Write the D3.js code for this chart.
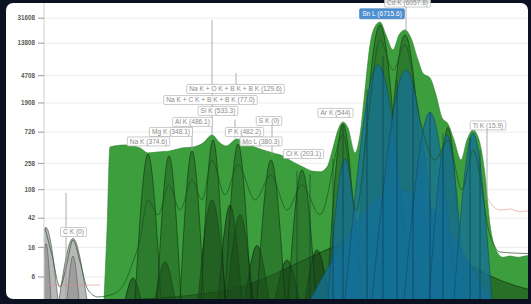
<!DOCTYPE html>
<html>
<head>
<meta charset="utf-8">
<script src="https://cdn.jsdelivr.net/npm/d3@7"></script>
<style>
  html, body { margin: 0; padding: 0; background: #0b1120; }
  svg { display: block; }
  .tick-label { font-family: "Liberation Sans", Arial, sans-serif; font-size: 6.3px; fill: #5a5a5a; font-weight: bold; }
  .peak-label { font-family: "Liberation Sans", Arial, sans-serif; font-size: 6.6px; fill: #8a8a8a; }
</style>
</head>
<body>
<svg id="chart" width="531" height="304"></svg>
<script>
// Y axis ticks (counts, log scale)
const tickValues = [6, 16, 42, 108, 258, 726, 1908, 4708, 13808, 31608];

// outer fit envelope [keV, counts]
const envelope = [
  [0.60, 2.8], [0.63, 28], [0.66, 444], [0.81, 474], [0.96, 430], [1.04, 365],
  [1.14, 377], [1.26, 390], [1.38, 430], [1.49, 444], [1.59, 507], [1.68, 660],
  [1.76, 507], [1.82, 459], [1.93, 579], [2.01, 507], [2.08, 459], [2.19, 402],
  [2.29, 365], [2.39, 330], [2.49, 270], [2.59, 229], [2.68, 200], [2.76, 195],
  [2.83, 229], [2.89, 430], [2.94, 780], [2.99, 1017], [3.04, 830], [3.11, 365],
  [3.16, 660], [3.21, 2935], [3.26, 13000], [3.31, 24000], [3.36, 27900],
  [3.42, 18100], [3.49, 11030], [3.55, 18100], [3.61, 21400], [3.67, 16300],
  [3.74, 7920], [3.79, 5100], [3.86, 4370], [3.92, 2490], [3.98, 1170],
  [4.04, 950], [4.10, 560], [4.17, 289], [4.23, 560], [4.29, 780], [4.35, 560],
  [4.41, 176], [4.46, 33.6], [4.52, 14.7], [4.59, 11.5], [4.66, 12], [4.74, 11.5],
  [4.81, 12], [4.87, 12.4]
];

// wide dark hump under everything [keV, counts]
const wideHump = [
  [0.76, 2.8], [1.16, 3.0], [1.56, 3.4], [1.96, 4.3], [2.26, 6.2], [2.56, 9.9],
  [2.86, 15.5], [3.21, 23], [3.56, 28.4], [3.96, 17.3], [4.26, 8.9], [4.56, 5.4],
  [4.87, 3.9]
];

// peaks: [centre keV, top counts, half width keV]
const greenPeaks = [
  [1.04, 350, 0.13], [1.25, 330, 0.12], [1.48, 390, 0.12], [1.69, 560, 0.12],
  [1.94, 490, 0.13], [2.27, 289, 0.14], [2.58, 207, 0.14], [2.99, 950, 0.16],
  [3.36, 25240, 0.25], [3.61, 18100, 0.25], [4.04, 850, 0.14]
];
const greenSmall = [
  [0.89, 5.8, 0.08], [1.21, 9.9, 0.10], [1.68, 77, 0.14], [1.86, 65, 0.12],
  [1.96, 47, 0.13], [2.13, 17, 0.12], [2.43, 10.5, 0.12], [2.73, 14.7, 0.12]
];
const bluePeaks = [
  [3.56, 107, 0.90], [3.01, 300, 0.17], [3.34, 6700, 0.33], [3.62, 5700, 0.34],
  [3.86, 1400, 0.26], [4.03, 660, 0.18], [4.29, 700, 0.19]
];
const grayPeaks = [[0.02, 31, 0.12], [0.29, 21.5, 0.14]];
const grayInner = [[0.02, 18, 0.05], [0.29, 12, 0.06]];

// measured spectrum line [keV, counts]
const spectrum = [
  [0.01, 30.3], [0.08, 12.4], [0.16, 4.3], [0.22, 8.1], [0.29, 20.4], [0.36, 9.9],
  [0.44, 3.9], [0.54, 3.1], [0.71, 3.5], [0.81, 5.1], [0.89, 9.9], [0.96, 20.4],
  [1.04, 77], [1.14, 47], [1.25, 126], [1.36, 55], [1.48, 149], [1.58, 77],
  [1.68, 289], [1.81, 91], [1.94, 245], [2.11, 77], [2.27, 176], [2.43, 55],
  [2.58, 126], [2.76, 47], [2.99, 660], [3.12, 53], [3.24, 1085], [3.36, 15340],
  [3.49, 5700], [3.61, 13000], [3.76, 1085], [3.91, 289], [4.04, 560], [4.18, 107],
  [4.29, 402], [4.46, 24], [4.56, 13.7], [4.87, 13]
];

// background (pink) traces
const bgLeft = [[0.0, 4.6], [0.56, 4.6]];
const bgRight = [[4.43, 85], [4.48, 65], [4.56, 55], [4.66, 57], [4.76, 52], [4.87, 55]];

// grey connector lines [keV, top counts, bottom counts]
const markerLines = [
  [0.22, 97, 2.8], [1.68, 29800, 640], [1.92, 5140, 3460], [1.48, 900, 390],
  [1.91, 1100, 600], [2.28, 950, 330], [4.43, 780, 77], [3.62, 45900, 21400]
];

// dark lines down the peaks [keV, top counts]
const peakLines = [
  [2.53, 200], [2.66, 180], [2.89, 300], [2.99, 900], [3.23, 3000], [3.39, 9000],
  [3.53, 4000], [3.69, 4000], [3.86, 1400], [3.99, 700], [4.26, 600], [4.36, 400]
];

// element labels [text, keV, counts, highlighted]
const labels = [
  ["Na K + O K + B K + B K (129.6)", 1.915, 3030, false],
  ["Na K + C K + B K + B K (77.0)", 1.665, 2100, false],
  ["Si K (533.3)", 1.74, 1464, false],
  ["Al K (486.1)", 1.485, 1017, false],
  ["S K (0)", 2.25, 1050, false],
  ["Mg K (348.1)", 1.27, 730, false],
  ["P K (482.2)", 2.005, 730, false],
  ["Na K (374.6)", 1.045, 533, false],
  ["Mo L (380.3)", 2.17, 533, false],
  ["Cl K (203.1)", 2.595, 352, false],
  ["Ar K (544)", 2.915, 1370, false],
  ["Cd K (6057.8)", 3.635, 53000, false],
  ["Sn L (6715.6)", 3.38, 36500, true],
  ["C K (0)", 0.295, 26.6, false],
  ["Ti K (15.9)", 4.44, 906, false]
];

const W = 531, H = 304;
const plot = { left: 44, right: 528, top: 3, bottom: 299 };

const svg = d3.select('#chart');

// frame
svg.append('rect').attr('width', W).attr('height', H).attr('fill', '#0b1120');
svg.append('rect')
  .attr('x', 6).attr('y', 3).attr('width', 522).attr('height', 296)
  .attr('rx', 7).attr('fill', '#ffffff');

const x = d3.scaleLinear().domain([0, 4.87]).range([44, 531]);
const y = d3.scaleLog().domain([2.8, 52200]).range([300, 3]);

// grid
svg.append('g').selectAll('line')
  .data(tickValues)
  .enter().append('line')
  .attr('x1', plot.left).attr('x2', plot.right)
  .attr('y1', d => y(d)).attr('y2', d => y(d))
  .attr('stroke', '#ececec').attr('stroke-width', 1);

svg.append('defs').append('clipPath').attr('id', 'plotClip')
  .append('rect')
  .attr('x', plot.left).attr('y', plot.top)
  .attr('width', plot.right - plot.left).attr('height', plot.bottom - plot.top);

const g = svg.append('g').attr('clip-path', 'url(#plotClip)');

const area = d3.area()
  .x(d => x(d[0]))
  .y0(300)
  .y1(d => y(d[1]))
  .curve(d3.curveMonotoneX);

const peakArea = d3.area()
  .x(d => x(d[0]))
  .y0(300)
  .y1(d => y(d[1]))
  .curve(d3.curveNatural);

const peakPoints = p => [[p[0] - p[2], 2.8], [p[0], p[1]], [p[0] + p[2], 2.8]];

const line = d3.line()
  .x(d => x(d[0]))
  .y(d => y(d[1]))
  .curve(d3.curveMonotoneX);

// envelope
g.append('path')
  .datum(envelope)
  .attr('d', area)
  .attr('fill', '#3c9e3c')
  .attr('stroke', '#2e7d2e')
  .attr('stroke-width', 0.6);

// wide hump
g.append('path')
  .datum(wideHump)
  .attr('d', area)
  .attr('fill', '#143f14')
  .attr('fill-opacity', 0.5)
  .attr('stroke', '#0f2f0f')
  .attr('stroke-width', 0.7);

function drawPeaks(data, fill, opacity, stroke) {
  g.append('g').selectAll('path')
    .data(data)
    .enter().append('path')
    .attr('d', d => peakArea(peakPoints(d)))
    .attr('fill', fill)
    .attr('fill-opacity', opacity)
    .attr('stroke', stroke)
    .attr('stroke-width', 0.6);
}

drawPeaks(greenSmall, '#0f330f', 0.5, '#0a220a');
drawPeaks(greenPeaks, '#1d5a1d', 0.5, '#0f300f');
drawPeaks(bluePeaks, '#146f96', 0.78, '#0d4a6a');
drawPeaks(grayPeaks, '#b8b8b8', 1, '#444');
drawPeaks(grayInner, '#8c8c8c', 0.6, '#555');

// dark lines down peaks
g.append('g').selectAll('line')
  .data(peakLines)
  .enter().append('line')
  .attr('x1', d => x(d[0])).attr('x2', d => x(d[0]))
  .attr('y1', d => y(d[1])).attr('y2', 300)
  .attr('stroke', '#06263a').attr('stroke-opacity', 0.55).attr('stroke-width', 0.9);

// spectrum
g.append('path')
  .datum(spectrum)
  .attr('d', line)
  .attr('fill', 'none')
  .attr('stroke', '#1c501c')
  .attr('stroke-opacity', 0.85)
  .attr('stroke-width', 0.8);

// background
[bgLeft, bgRight].forEach(bg => {
  g.append('path')
    .datum(bg)
    .attr('d', line)
    .attr('fill', 'none')
    .attr('stroke', '#e08a8a')
    .attr('stroke-opacity', 0.8)
    .attr('stroke-width', 0.7);
});

// y axis
svg.append('line')
  .attr('x1', plot.left).attr('x2', plot.left)
  .attr('y1', plot.top).attr('y2', plot.bottom)
  .attr('stroke', '#cfcfcf');

const yTicks = svg.append('g').selectAll('g')
  .data(tickValues)
  .enter().append('g')
  .attr('transform', d => 'translate(0,' + y(d) + ')');

yTicks.append('line')
  .attr('x1', 38).attr('x2', plot.left)
  .attr('stroke', '#999');

yTicks.append('text')
  .attr('class', 'tick-label')
  .attr('x', 35).attr('dy', '0.35em')
  .attr('text-anchor', 'end')
  .text(d => d);

// connector lines
svg.append('g').selectAll('line')
  .data(markerLines)
  .enter().append('line')
  .attr('x1', d => x(d[0])).attr('x2', d => x(d[0]))
  .attr('y1', d => y(d[1])).attr('y2', d => Math.min(y(d[2]), plot.bottom))
  .attr('stroke', '#9a9a9a')
  .attr('stroke-width', 0.8);

// label boxes
const lab = svg.append('g').selectAll('g')
  .data(labels)
  .enter().append('g')
  .attr('transform', d => 'translate(' + x(d[1]) + ',' + y(d[2]) + ')');

lab.append('rect');
lab.append('text')
  .attr('class', 'peak-label')
  .attr('text-anchor', 'middle')
  .attr('dy', '0.35em')
  .style('fill', d => d[3] ? '#ffffff' : null)
  .text(d => d[0]);

lab.each(function(d) {
  const sel = d3.select(this);
  const w = sel.select('text').node().getComputedTextLength() + 5;
  const h = d[3] ? 10 : 9;
  sel.select('rect')
    .attr('x', -w / 2).attr('y', -h / 2)
    .attr('width', w).attr('height', h)
    .attr('rx', 1)
    .attr('fill', d[3] ? '#4d8fd1' : '#ffffff')
    .attr('fill-opacity', d[3] ? 1 : 0.88)
    .attr('stroke', d[3] ? '#3c7cc0' : '#b5b5b5')
    .attr('stroke-width', 0.7);
});
</script>
</body>
</html>
